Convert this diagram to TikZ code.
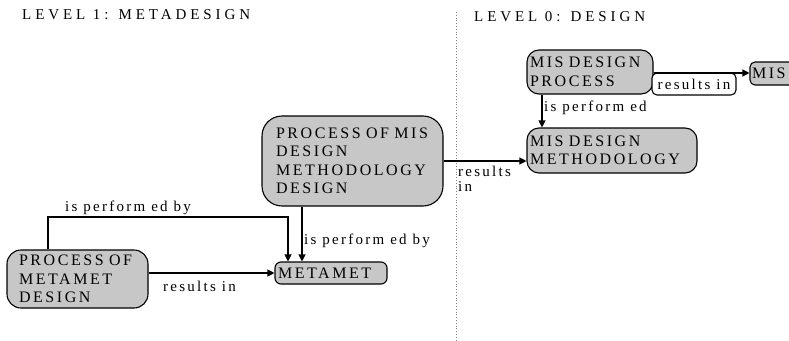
\documentclass[tikz,border=0pt]{standalone}
\usepackage{fontspec}
\setmainfont{Liberation Serif}
\newfontfamily\nodefont[LetterSpace=16]{Liberation Serif}
\newfontfamily\labfont[LetterSpace=15]{Liberation Serif}
\newfontfamily\headfont[LetterSpace=26]{Liberation Serif}
\usetikzlibrary{arrows.meta}
\begin{document}
\begin{tikzpicture}[x=1pt,y=-1pt,
  box/.style={draw, line width=1.1pt, fill=black!22, align=left, inner ysep=0pt,
    font=\nodefont\fontsize{16}{18.5}\selectfont},
  lab/.style={inner sep=0pt, anchor=west, font=\labfont\fontsize{15}{15}\selectfont},
  head/.style={inner sep=0pt, anchor=west, font=\headfont\fontsize{15}{15}\selectfont},
  conn/.style={line width=1.1pt},
  arr/.style={conn, -{Triangle[length=7pt,width=7pt]}}]
\clip (0,0) rectangle (789,340);
\fill[white] (0,0) rectangle (789,340);
% divider
\draw[gray, dotted, line width=0.8pt] (456,12) -- (456,340);
% headers
\node[head] (h1) at (22,15) {LEVEL 1: METADESIGN};
\node[head] (h0) at (474,17) {LEVEL 0: DESIGN};
% boxes
\node[box, rounded corners=14pt, minimum width=141pt, minimum height=58pt,
  inner xsep=12pt, text width=117pt] (pomd) at (77.5,279)
  {\mbox{PROCESS OF}\\METAMET\\DESIGN};
\node[box, rounded corners=6pt, minimum width=112pt, minimum height=22pt,
  inner xsep=3pt, text width=106pt] (metamet) at (331,273) {METAMET};
\node[box, rounded corners=20pt, minimum width=181pt, minimum height=90pt,
  inner xsep=14pt, text width=153pt] (pmdd) at (352.5,161)
  {\mbox{PROCESS OF MIS}\\DESIGN\\METHODOLOGY\\DESIGN};
\node[box, rounded corners=12pt, minimum width=126pt, minimum height=44pt,
  inner xsep=3pt, text width=120pt] (misdp) at (590,72)
  {\mbox{MIS DESIGN}\\PROCESS};
\node[box, rounded corners=12pt, minimum width=170pt, minimum height=45pt,
  inner xsep=3pt, text width=164pt] (misdm) at (612,150.5)
  {\mbox{MIS DESIGN}\\METHODOLOGY};
\node[box, rounded corners=5pt, minimum width=60pt, minimum height=23pt,
  inner xsep=2pt, text width=56pt] (mis) at (780,73.5) {MIS};
\node[draw, line width=1.1pt, fill=white, rounded corners=5pt, minimum width=84pt,
  minimum height=22pt, inner sep=0pt, font=\labfont\fontsize{15}{15}\selectfont]
  (resbox) at (694,84) {results in};
% connectors
\draw[arr] ([yshift=-1pt]misdp.east) -- ([yshift=-1pt]misdp.east -| mis.west);
\draw[arr] ([xshift=-48pt]misdp.south) -- ([xshift=-48pt]misdp.south |- misdm.north);
\draw[arr] (pmdd.east) -- (pmdd.east -| misdm.west);
\draw[arr] ([xshift=-50.5pt]pmdd.south) -- ([xshift=-50.5pt]pmdd.south |- metamet.north);
\coordinate (c1) at ([xshift=-29.5pt]pomd.north);
\draw[arr] (c1) -- (c1 |- 0,217) -- ([xshift=-43pt]metamet.north |- 0,217) -- ([xshift=-43pt]metamet.north);
\draw[arr] (pomd.east |- metamet.west) -- (metamet.west);
% labels
\node[lab] (l1) at (65,207.5) {is perform ed by};
\node[lab] (l2) at (163,286) {results in};
\node[lab] (l3) at (304,241) {is perform ed by};
\node[lab, align=left, anchor=north west, font=\labfont\fontsize{15}{15}\selectfont] (l4) at (458,166) {results\\in};
\node[lab] (l5) at (544,107.5) {is perform ed};
\end{tikzpicture}
\end{document}
